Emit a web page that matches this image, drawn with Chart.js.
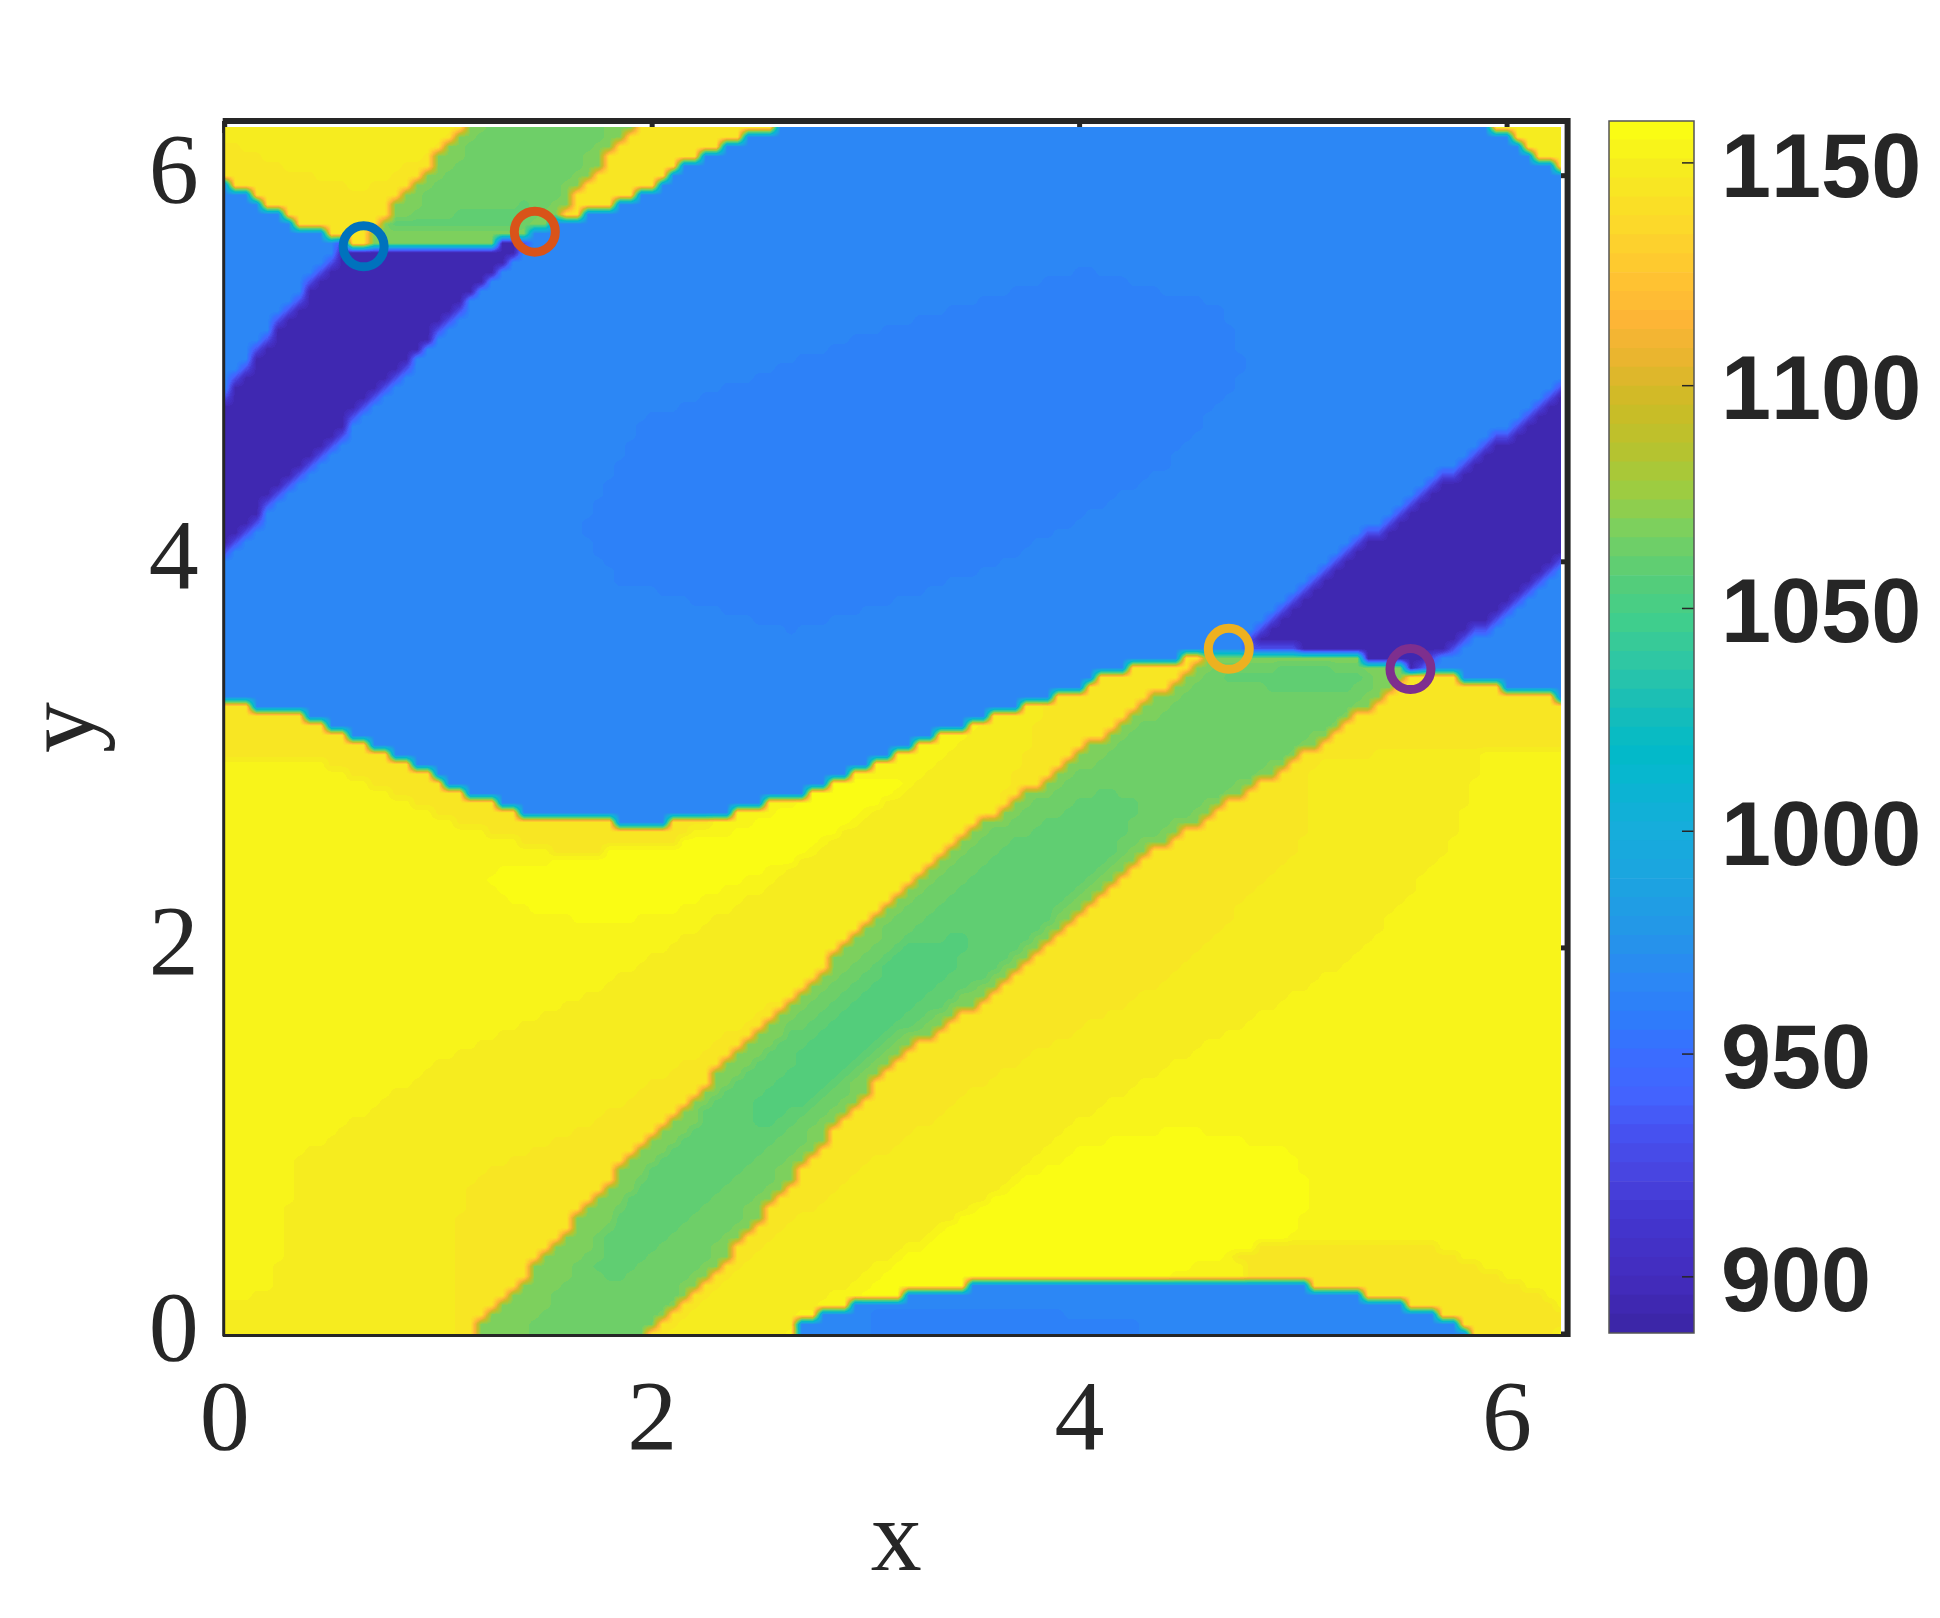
<!DOCTYPE html>
<html>
<head>
<meta charset="utf-8">
<title>x-y field</title>
<script src="https://cdn.jsdelivr.net/npm/chart.js@4"></script>
<style>
  body { margin: 0; background: #fff; }
  canvas { position: absolute; left: 0; top: 0; }
</style>
</head>
<body>
<canvas id="fieldChart" width="1940" height="1618"></canvas>
<canvas id="barChart" width="1940" height="1618"></canvas>
<script>
const xTicks = [0, 2, 4, 6];
const yTicks = [0, 2, 4, 6];
const barTicks = [900, 950, 1000, 1050, 1100, 1150];
const barMin = 887.4;
const barMax = 1159.4;
const gridStep = 0.05;
const gridCount = 125;

// colours
const mapValues = [887, 900, 914, 923, 932, 941, 950, 958, 967, 976, 985, 1000, 1012, 1018, 1028, 1037, 1047, 1057, 1067, 1076, 1086, 1096, 1106, 1115, 1123, 1135, 1150, 1159];
const mapColors = ['#3a24a3', '#432cbe', '#4336d0', '#4844e0', '#4651f0', '#4364ff', '#3a6dff', '#2e7cfb', '#2c88f4', '#2594e9', '#1ea0e2', '#16addb', '#08b6d0', '#02bac8', '#18bdb8', '#2dc6a6', '#3fce8c', '#57cd78', '#79d060', '#9ccd42', '#b8c22e', '#cdbb25', '#e9b52f', '#fdb536', '#ffc232', '#fcd72b', '#f6ee1e', '#fbff12'];

// field levels and the outlines they were read from, painted in this order
const baseLevel = 1153;
const midYellow = [[-0.1,-0.1],[-0.1,0.2],[0.086,0.19],[0.23,0.26],[0.306,0.694],[0.32,0.9],[1.008,1.41],[1.676,1.74],[2.5,2.3],[3.3,2.9],[4,3.6],[6.4,3.6],[6.4,3.02],[5.9,3],[5.75,2.55],[5.32,1.98],[4.74,1.59],[4.04,1.14],[3.628,0.74],[2.678,0.1],[2.6,-0.1]];
const halo = [[1.05,-0.1],[1.057,0.466],[1.175,0.835],[1.709,1.1],[2.177,1.427],[2.51,1.668],[2.846,1.945],[3.347,2.5],[3.63,2.777],[4,3.6],[6.4,3.6],[6.4,3.02],[5.5,3.02],[5.09,2.94],[5.05,2.55],[4.45,1.85],[3.628,1.353],[3.013,0.872],[2.51,0.445],[2.077,0.02],[2.05,-0.1]];
const blueEdgeYellow = [[-0.1,3.4],[-0.1,3],[0.5,2.95],[1,2.68],[1.6,2.48],[2.1,2.5],[2.4,2.8],[2.4,3.4]];
const capEdgeYellow = [[4.7,0.45],[5.2,0.5],[5.7,0.45],[6.1,0.25],[6.3,0.1],[6.2,-0.1],[5,-0.1]];
const brightUpper = [[1.2,2.38],[1.676,2.49],[2.344,2.575],[2.93,2.9],[3.263,2.9],[2.678,2.463],[2.177,2.22],[1.76,2.11],[1.34,2.22]];
const brightLower = [[2.654,-0.1],[3,0.245],[3.52,0.66],[4.04,0.98],[4.5,1.07],[5,0.95],[5.11,0.73],[5,0.5],[4.5,0.34],[3.75,-0.1]];
const blueMain = [[-0.1,3.27],[0,3.27],[0.338,3.207],[0.628,3.079],[0.975,2.887],[1.2,2.77],[1.35,2.715],[1.5,2.668],[1.8,2.66],[1.92,2.61],[2,2.64],[2.33,2.69],[2.53,2.75],[2.68,2.79],[2.886,2.874],[3.234,3.053],[3.58,3.207],[3.93,3.31],[4.127,3.42],[4.267,3.466],[4.462,3.5],[4.595,3.508],[4.767,3.54],[5.297,3.539],[5.36,3.487],[5.484,3.487],[5.555,3.444],[5.75,3.42],[5.797,3.37],[5.953,3.37],[6,3.317],[6.2,3.317],[6.25,3.275],[6.4,3.27],[6.4,6.4],[-0.1,6.4]];
const blueDeep = [[1.67,4.156],[1.96,4.733],[3,5.18],[4.04,5.515],[4.68,5.31],[4.768,4.99],[4.39,4.476],[3.58,3.964],[2.654,3.643],[1.844,3.9]];
const fringeLeft = [[-0.1,4.77],[0,4.89],[0.273,5.3],[0.571,5.684],[1.46,5.72],[0.727,4.846],[0,4.03],[-0.1,3.92]];
const fringeRight = [[4.767,3.61],[5.5,4.29],[6.248,4.9],[6.4,5.03],[6.4,4.1],[6.248,3.955],[5.814,3.573],[5.6,3.44],[4.767,3.44]];
const capTopLeft = [[-0.1,6.4],[-0.1,5.98],[0,5.98],[0.056,5.936],[0.103,5.93],[0.204,5.832],[0.251,5.832],[0.352,5.734],[0.454,5.734],[0.508,5.686],[0.578,5.648],[0.633,5.634],[1.296,5.634],[1.296,5.66],[1.42,5.66],[1.452,5.711],[1.561,5.79],[1.67,5.79],[1.78,5.832],[1.881,5.884],[1.975,5.936],[2.076,5.988],[2.133,6.06],[2.365,6.175],[2.568,6.25],[2.75,6.4]];
const capTopLeftInner = [[-0.1,6.22],[0.353,6.015],[0.633,5.936],[0.88,6.067],[1.054,6.25],[1.1,6.4],[-0.1,6.4]];
const capTopRight = [[5.88,6.4],[5.92,6.25],[6,6.21],[6.14,6.08],[6.19,6.08],[6.25,6.03],[6.4,5.95],[6.4,6.4]];
const capBottom = [[2.66,-0.1],[2.66,0.03],[2.757,0.09],[2.917,0.14],[3.064,0.185],[3.357,0.236],[3.76,0.29],[5.058,0.29],[5.095,0.236],[5.303,0.236],[5.35,0.185],[5.51,0.185],[5.547,0.14],[5.658,0.14],[5.695,0.09],[5.78,0.09],[5.805,0.04],[5.88,-0.1]];
const capBottomDeep = [[3,-0.1],[3.05,0.1],[3.8,0.12],[4.3,0.05],[4.3,-0.1]];
const greenMain = [[1.157,-0.1],[1.157,0],[1.91,0.927],[2.678,1.762],[3.204,2.348],[3.564,2.668],[3.93,2.95],[4.594,3.515],[4.767,3.54],[5.297,3.539],[5.36,3.487],[5.484,3.487],[5.555,3.444],[5.468,3.348],[5.157,3.084],[4.334,2.489],[3.614,1.779],[3.13,1.41],[2.678,0.835],[2.344,0.39],[1.96,0],[1.96,-0.1]];
const greenBody = [[1.35,-0.1],[1.98,0.85],[2.72,1.68],[3.25,2.27],[3.6,2.6],[3.97,2.88],[4.65,3.45],[5.3,3.47],[5.42,3.38],[5.1,3.1],[4.28,2.54],[3.55,1.83],[3.07,1.46],[2.62,0.89],[2.28,0.44],[1.9,-0.1]];
const greenMid = [[1.742,0.373],[1.843,0.632],[2.077,0.964],[2.465,1.39],[2.967,1.834],[3.347,2.22],[3.628,2.518],[4.1,2.82],[4.3,2.75],[4.2,2.55],[3.628,1.89],[3.147,1.557],[2.678,1.078],[2.177,0.613],[1.846,0.28],[1.775,0.261]];
const greenInner = [[2.46,1.114],[2.51,1.243],[2.846,1.61],[3.18,2],[3.447,2.075],[3.506,2.04],[3.41,1.89],[3.097,1.575],[2.763,1.243],[2.495,1.057]];
const greenRightInner = [[4.64,3.41],[5.11,3.477],[5.42,3.37],[5.03,3.306]];
const greenTop = [[0.62,5.6],[0.727,5.755],[1.22,6.4],[2.02,6.4],[1.561,5.79],[1.452,5.711],[1.42,5.66],[1.296,5.66],[1.296,5.6]];
const greenTopBody = [[0.8,5.72],[1.15,6.15],[1.3,6.4],[1.9,6.4],[1.5,5.82],[1.4,5.72]];
const greenTopInner = [[0.758,5.755],[1.443,5.86],[1.382,5.72],[1.132,5.704]];
const purpleLeft = [[-0.1,4.72],[0,4.84],[0.273,5.25],[0.571,5.634],[1.296,5.634],[1.296,5.66],[1.42,5.66],[1.452,5.711],[0.727,4.896],[0,4.08],[-0.1,3.97]];
const purpleRight = [[4.767,3.56],[5.5,4.24],[6.248,4.85],[6.4,4.98],[6.4,4.15],[6.248,4.005],[5.814,3.623],[5.555,3.444],[5.484,3.487],[5.36,3.487],[5.297,3.539]];

const fieldRegions = [midYellow, halo, blueEdgeYellow, capEdgeYellow, brightUpper, brightLower, blueMain, blueDeep, fringeLeft, fringeRight, capTopLeft, capTopLeftInner, capTopRight, capBottom, capBottomDeep, greenMain, greenBody, greenMid, greenInner, greenRightInner, greenTop, greenTopBody, greenTopInner, purpleLeft, purpleRight];
const fieldLevels = [1149, 1145, 1145, 1145, 1157, 1157, 967, 960, 930, 930, 1145, 1149, 1149, 967, 960, 1068, 1063.8, 1059.5, 1055, 1059.5, 1068, 1063.8, 1059.5, 892, 892];

// the four marked points
const markX = [0.65, 1.451, 4.698, 5.548];
const markY = [5.634, 5.71, 3.549, 3.444];
const markColors = ['#0072bd', '#d95319', '#edb120', '#7e2f8e'];

const axisColor = '#262626';

function hexToRgb(h) {
    return [parseInt(h.slice(1, 3), 16), parseInt(h.slice(3, 5), 16), parseInt(h.slice(5, 7), 16)];
}

// 64 level colour table like the bar shows
const levelColors = [];
for (let i = 0; i < 64; i++) {
    const v = barMin + (i + 0.5) * (barMax - barMin) / 64;
    let k = 0;
    while (k < mapValues.length - 2 && v > mapValues[k + 1]) k++;
    const t = Math.min(1, Math.max(0, (v - mapValues[k]) / (mapValues[k + 1] - mapValues[k])));
    const a = hexToRgb(mapColors[k]), b = hexToRgb(mapColors[k + 1]);
    levelColors.push([0, 1, 2].map(c => Math.round(a[c] + (b[c] - a[c]) * t)));
}

function inside(poly, x, y) {
    let hit = false;
    for (let i = 0, j = poly.length - 1; i < poly.length; j = i++) {
        const yi = poly[i][1], yj = poly[j][1];
        if ((yi > y) !== (yj > y) && x < (poly[j][0] - poly[i][0]) * (y - yi) / (yj - yi) + poly[i][0]) hit = !hit;
    }
    return hit;
}

function fieldGrid() {
    const grid = [];
    for (let j = 0; j <= gridCount; j++) {
        const row = [];
        for (let i = 0; i <= gridCount; i++) {
            let v = baseLevel;
            fieldRegions.forEach((poly, r) => {
                if (inside(poly, i * gridStep, j * gridStep)) v = fieldLevels[r];
            });
            row.push(v);
        }
        grid.push(row);
    }
    return grid;
}

// paints the field under the markers through the chart's own scales
let fieldImage = null;
const fieldPlugin = {
    id: 'field',
    beforeDatasetsDraw(chart) {
        const { ctx, chartArea: area, scales: { x, y } } = chart;

        ctx.save();
        ctx.strokeStyle = axisColor;
        ctx.lineWidth = 5;
        xTicks.forEach(v => {
            const px = x.getPixelForValue(v);
            ctx.beginPath(); ctx.moveTo(px, area.top); ctx.lineTo(px, area.top + 12); ctx.stroke();
        });
        yTicks.forEach(v => {
            const py = y.getPixelForValue(v);
            ctx.beginPath(); ctx.moveTo(area.right, py); ctx.lineTo(area.right - 12, py); ctx.stroke();
        });
        ctx.restore();

        if (!fieldImage) {
            const grid = fieldGrid();
            const left = Math.round(x.getPixelForValue(0));
            const right = Math.round(x.getPixelForValue(gridCount * gridStep));
            const top = Math.round(y.getPixelForValue(gridCount * gridStep));
            const bottom = Math.round(y.getPixelForValue(0));
            const w = right - left, h = bottom - top;
            const img = ctx.createImageData(w, h);
            for (let py = 0; py < h; py++) {
                const fy = Math.min(gridCount - 1e-6, Math.max(0, y.getValueForPixel(top + py + 0.5) / gridStep));
                const j = Math.floor(fy), ty = fy - j;
                for (let px = 0; px < w; px++) {
                    const fx = Math.min(gridCount - 1e-6, Math.max(0, x.getValueForPixel(left + px + 0.5) / gridStep));
                    const i = Math.floor(fx), tx = fx - i;
                    const v = (grid[j][i] * (1 - tx) + grid[j][i + 1] * tx) * (1 - ty) + (grid[j + 1][i] * (1 - tx) + grid[j + 1][i + 1] * tx) * ty;
                    const c = levelColors[Math.max(0, Math.min(63, Math.floor((v - barMin) / (barMax - barMin) * 64)))];
                    const o = (py * w + px) * 4;
                    img.data[o] = c[0]; img.data[o + 1] = c[1]; img.data[o + 2] = c[2]; img.data[o + 3] = 255;
                }
            }
            fieldImage = { img, left, top };
        }
        const off = document.createElement('canvas');
        off.width = fieldImage.img.width;
        off.height = fieldImage.img.height;
        off.getContext('2d').putImageData(fieldImage.img, 0, 0);
        ctx.drawImage(off, fieldImage.left, fieldImage.top);

        // box: thin on left and bottom, heavy on top and right
        ctx.save();
        ctx.strokeStyle = axisColor;
        ctx.lineWidth = 3;
        ctx.beginPath();
        ctx.moveTo(area.left - 1, area.top); ctx.lineTo(area.left - 1, area.bottom + 2);
        ctx.moveTo(area.left - 2, area.bottom + 1.5); ctx.lineTo(area.right, area.bottom + 1.5);
        ctx.stroke();
        ctx.lineWidth = 6;
        ctx.beginPath();
        ctx.moveTo(area.left - 2, area.top); ctx.lineTo(area.right, area.top); ctx.lineTo(area.right, area.bottom + 3);
        ctx.stroke();
        ctx.restore();
    }
};

const barFramePlugin = {
    id: 'barFrame',
    beforeDraw(chart) {
        // the "11" pair should not close up
        chart.ctx.fontKerning = 'none';
    },
    afterDatasetsDraw(chart) {
        const { ctx, chartArea: area, scales: { y } } = chart;
        ctx.save();
        ctx.strokeStyle = axisColor;
        ctx.lineWidth = 1.5;
        barTicks.forEach(v => {
            const py = y.getPixelForValue(v);
            ctx.beginPath(); ctx.moveTo(area.right, py); ctx.lineTo(area.right - 12, py); ctx.stroke();
        });
        ctx.strokeStyle = '#555';
        ctx.strokeRect(area.left, area.top, area.right - area.left, area.bottom - area.top);
        ctx.restore();
    }
};

new Chart(document.getElementById('fieldChart'), {
    type: 'scatter',
    data: {
        datasets: [{
            data: markX.map((v, i) => ({ x: v, y: markY[i] })),
            pointRadius: 20.5,
            pointBorderWidth: 9,
            pointBackgroundColor: 'rgba(0,0,0,0)',
            pointBorderColor: markColors
        }]
    },
    options: {
        responsive: false,
        animation: false,
        layout: { padding: { left: 0, top: 121, right: 372.4, bottom: 0 } },
        plugins: { legend: { display: false }, tooltip: { enabled: false } },
        scales: {
            x: {
                type: 'linear',
                min: 0,
                max: 2 * Math.PI,
                afterBuildTicks: s => { s.ticks = xTicks.map(v => ({ value: v })); },
                afterFit: s => { s.height = 284; },
                grid: { display: false },
                border: { display: false },
                ticks: { color: axisColor, padding: 21, maxRotation: 0, autoSkip: false, font: { family: 'Liberation Serif', size: 100 } },
                title: { display: true, text: 'x', color: axisColor, padding: { top: 0, bottom: 24 }, font: { family: 'Liberation Serif', size: 102, lineHeight: 1 } }
            },
            y: {
                type: 'linear',
                min: 0,
                max: 2 * Math.PI,
                afterBuildTicks: s => { s.ticks = yTicks.map(v => ({ value: v })); },
                afterFit: s => { s.width = 224.7; },
                grid: { display: false },
                border: { display: false },
                ticks: { color: axisColor, padding: 18, autoSkip: false, font: { family: 'Liberation Serif', size: 100 } },
                title: { display: true, text: 'y', color: axisColor, padding: { top: 15, bottom: 0 }, font: { family: 'Liberation Serif', size: 102, lineHeight: 1 } }
            }
        }
    },
    plugins: [fieldPlugin]
});

new Chart(document.getElementById('barChart'), {
    type: 'bar',
    data: {
        labels: [''],
        datasets: levelColors.map((c, i) => ({
            data: [[barMin + i * (barMax - barMin) / 64, barMin + (i + 1) * (barMax - barMin) / 64]],
            backgroundColor: 'rgb(' + c.join(',') + ')',
            barPercentage: 1,
            categoryPercentage: 1,
            grouped: false
        }))
    },
    options: {
        responsive: false,
        animation: false,
        layout: { padding: { left: 1609, top: 121, right: 0, bottom: 285 } },
        plugins: { legend: { display: false }, tooltip: { enabled: false } },
        scales: {
            x: { display: false },
            y: {
                position: 'right',
                min: barMin,
                max: barMax,
                afterBuildTicks: s => { s.ticks = barTicks.map(v => ({ value: v })); },
                afterFit: s => { s.width = 246; },
                grid: { display: false },
                border: { display: false },
                // empty first line nudges the label down below the tick
                ticks: { color: axisColor, padding: 19, autoSkip: false, callback: v => ['', String(v)], font: { family: 'Liberation Sans', size: 90, weight: 'bold', lineHeight: '18px' } }
            }
        }
    },
    plugins: [barFramePlugin]
});
</script>
</body>
</html>
